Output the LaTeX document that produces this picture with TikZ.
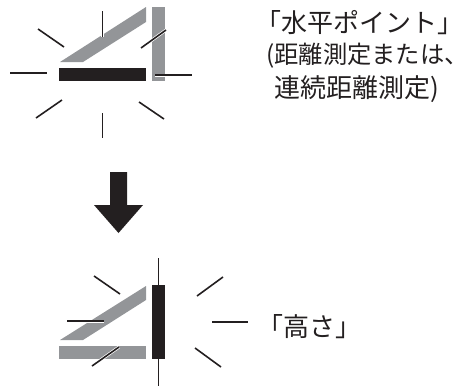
\documentclass[tikz,border=0pt]{standalone}
\usepackage{fontspec}
\setmainfont{Noto Sans CJK JP}
\definecolor{greybar}{HTML}{939598}
\definecolor{blackbar}{HTML}{231F20}
\tikzset{
  greyshape/.style={fill=greybar,draw=none},
  blackshape/.style={fill=blackbar,draw=none},
  ray/.style={draw=blackbar,line width=1.6pt},
  halo/.style={draw=white,line width=3pt},
  label/.style={anchor=west,inner sep=0pt,font=\fontsize{26}{26}\selectfont,text=blackbar}
}
\begin{document}
\begin{tikzpicture}[x=1pt,y=-1pt]
\useasboundingbox (0,0) rectangle (470,388);
% top figure
\fill[greyshape] (60,62) -- (83,62) -- (146,22) -- (146,7) -- cycle;
\fill[greyshape] (152,7) rectangle (165,81);
\fill[blackshape] (59,68) rectangle (146,81);
\draw[halo] (102.5,11) -- (102.5,37);
\draw[halo] (141,48) -- (166,30);
\draw[halo] (155,75) -- (192,75);
\draw[ray] (102.5,11) -- (102.5,37);
\draw[ray] (38,29) -- (64,47);
\draw[ray] (10,73) -- (47,73);
\draw[ray] (36,118) -- (62,100);
\draw[ray] (102.5,113) -- (102.5,138);
\draw[ray] (139,102) -- (164,119);
\draw[ray] (155,75) -- (192,75);
\draw[ray] (141,48) -- (166,30);
% arrow
\fill[blackshape] (110,172) -- (127,172) -- (127,205) -- (143,205) -- (118.5,233) -- (94,205) -- (110,205) -- cycle;
% bottom figure
\fill[greyshape] (60,340) -- (83,340) -- (146,300) -- (146,286) -- cycle;
\fill[greyshape] (59,346) rectangle (146,359);
\fill[blackshape] (152,285) rectangle (165,359);
\draw[halo] (67,321) -- (104,321);
\draw[halo] (92,366) -- (119,347);
\draw[ray] (158.5,258) -- (158.5,285);
\draw[ray] (158.5,359) -- (158.5,385.5);
\draw[ray] (94,276) -- (120,294);
\draw[ray] (67,321) -- (104,321);
\draw[ray] (92,366) -- (119,347);
\draw[ray] (197,296) -- (223,277);
\draw[ray] (212,322) -- (248,322);
\draw[ray] (195,348) -- (221,367);
% labels
\node[label] (t1) at (255,23) {「水平ポイント」};
\node[label] (t2) at (266,56) {\fontsize{24.3}{26}\selectfont (距離測定または、};
\node[label] (t3) at (274,89) {連続距離測定)};
\node[label] (t4) at (257,327) {「高さ」};
\end{tikzpicture}
\end{document}
